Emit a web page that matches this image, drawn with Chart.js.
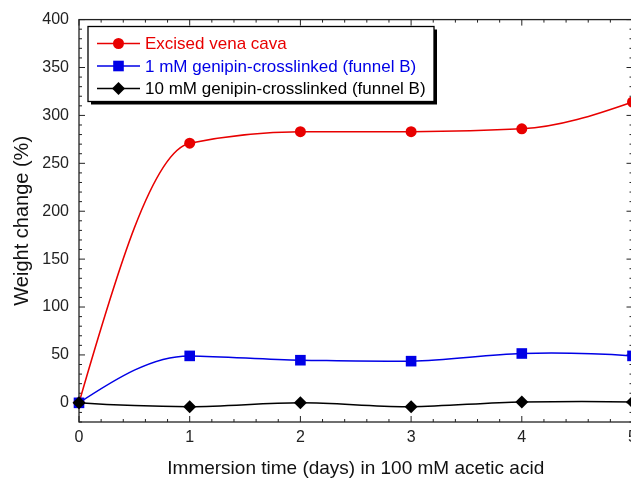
<!DOCTYPE html>
<html>
<head>
<meta charset="utf-8">
<script src="https://cdn.jsdelivr.net/npm/chart.js@4.4.0/dist/chart.umd.min.js"></script>
<style>
  html, body { margin: 0; padding: 0; background: #fff; overflow: hidden; }
  #wrap { width: 680px; height: 479px; }
</style>
</head>
<body>
<div id="wrap"><canvas id="chart" width="680" height="479"></canvas></div>
<script>
/* Weight change of vena cava samples in acetic acid */

var days = [0, 1, 2, 3, 4, 5];
var venaCava = [0, 271, 283, 283, 286, 314];
var genipin1mM = [0, 49, 44.5, 43.5, 51.5, 49];
var genipin10mM = [0, -4, 0, -4, 1, 1];

var xTicks = [0, 1, 2, 3, 4, 5];
var yTicks = [0, 50, 100, 150, 200, 250, 300, 350, 400];

var seriesNames = [
  'Excised vena cava',
  '1 mM genipin-crosslinked (funnel B)',
  '10 mM genipin-crosslinked (funnel B)'
];

var FONT = "'Liberation Sans', Arial, sans-serif";
var RED = '#e80000', BLUE = '#0000e6', BLACK = '#000000';

function pts(ys) {
  return days.map(function(d, i) { return { x: d, y: ys[i] }; });
}

function series(label, ys, color, style, radius, order) {
  return {
    label: label,
    data: pts(ys),
    borderColor: color,
    backgroundColor: color,
    borderWidth: 1.5,
    pointStyle: style,
    pointRadius: radius,
    pointBorderWidth: 0,
    pointBackgroundColor: color,
    cubicInterpolationMode: 'monotone',
    clip: false,
    order: order
  };
}

// Akima slopes, the origin-style spline the plot was made with
function akimaSlopes(xs, ys) {
  var n = xs.length, m = [], t = [];
  for (var i = 0; i < n - 1; i++) m[i + 2] = (ys[i + 1] - ys[i]) / (xs[i + 1] - xs[i]);
  m[1] = 2 * m[2] - m[3];
  m[0] = 2 * m[1] - m[2];
  m[n + 1] = 2 * m[n] - m[n - 1];
  m[n + 2] = 2 * m[n + 1] - m[n];
  for (var k = 0; k < n; k++) {
    var w1 = Math.abs(m[k + 3] - m[k + 2]), w2 = Math.abs(m[k + 1] - m[k]);
    t[k] = (w1 + w2) === 0 ? (m[k + 1] + m[k + 2]) / 2
      : (w1 * m[k + 1] + w2 * m[k + 2]) / (w1 + w2);
  }
  return t;
}

var splinePlugin = {
  id: 'akima',
  beforeDatasetsDraw: function(chart) {
    var xs = chart.scales.x, ys = chart.scales.y;
    chart.data.datasets.forEach(function(ds, di) {
      var meta = chart.getDatasetMeta(di);
      meta.dataset.updateControlPoints(chart.chartArea, 'x');
      var vx = ds.data.map(function(p) { return p.x; });
      var vy = ds.data.map(function(p) { return p.y; });
      var tan = akimaSlopes(vx, vy);
      meta.data.forEach(function(p, i) {
        if (i > 0) {
          var h0 = (vx[i] - vx[i - 1]) / 3;
          p.cp1x = xs.getPixelForValue(vx[i] - h0);
          p.cp1y = ys.getPixelForValue(vy[i] - tan[i] * h0);
        }
        if (i < vx.length - 1) {
          var h1 = (vx[i + 1] - vx[i]) / 3;
          p.cp2x = xs.getPixelForValue(vx[i] + h1);
          p.cp2y = ys.getPixelForValue(vy[i] + tan[i] * h1);
        }
      });
    });
  }
};

// ─── FRAME + INWARD TICKS ─────────────────────────────────
var framePlugin = {
  id: 'frame',
  beforeDatasetsDraw: function(chart) {
    var ctx = chart.ctx, a = chart.chartArea;
    var xs = chart.scales.x, ys = chart.scales.y;
    ctx.save();
    ctx.strokeStyle = '#222';
    ctx.lineWidth = 1.3;
    ctx.strokeRect(a.left, a.top, a.right - a.left, a.bottom - a.top);
    ctx.lineWidth = 1;
    ctx.beginPath();
    for (var v = -20; v <= 400; v += 10) {
      var y = ys.getPixelForValue(v);
      var len = v % 50 === 0 ? 6 : 3;
      ctx.moveTo(a.left, y); ctx.lineTo(a.left + len, y);
      ctx.moveTo(a.right, y); ctx.lineTo(a.right - len, y);
    }
    for (var i = 0; i <= 25; i++) {
      var x = xs.getPixelForValue(i / 5);
      var l = i % 5 === 0 ? 6 : 3;
      ctx.moveTo(x, a.bottom); ctx.lineTo(x, a.bottom - l);
      ctx.moveTo(x, a.top); ctx.lineTo(x, a.top + l);
    }
    ctx.stroke();
    ctx.restore();
  }
};

// ─── BOXED LEGEND WITH SHADOW ─────────────────────────────
var legendPlugin = {
  id: 'boxLegend',
  afterDatasetsDraw: function(chart) {
    var ctx = chart.ctx;
    var bx = 88, by = 26.5, bw = 346, bh = 75;
    ctx.save();
    ctx.fillStyle = '#000';
    ctx.fillRect(bx + 3, by + 3, bw, bh);
    ctx.fillStyle = '#fff';
    ctx.fillRect(bx, by, bw, bh);
    ctx.strokeStyle = '#000';
    ctx.lineWidth = 1.3;
    ctx.strokeRect(bx, by, bw, bh);

    ctx.font = '17px ' + FONT;
    ctx.textBaseline = 'middle';
    ctx.textAlign = 'left';
    chart.data.datasets.forEach(function(ds, i) {
      var y = 43.5 + i * 22.5;
      ctx.strokeStyle = ds.borderColor;
      ctx.lineWidth = 1.5;
      ctx.beginPath();
      ctx.moveTo(97, y); ctx.lineTo(140, y);
      ctx.stroke();
      ctx.fillStyle = ds.borderColor;
      Chart.helpers.drawPoint(ctx, {
        pointStyle: ds.pointStyle, radius: ds.pointRadius, rotation: 0, borderWidth: 0
      }, 118.5, y);
      ctx.fillStyle = ds.borderColor;
      ctx.fillText(ds.label, 145, y + 1);
    });
    ctx.restore();
  }
};

new Chart(document.getElementById('chart'), {
  type: 'line',
  data: {
    datasets: [
      series(seriesNames[0], venaCava, RED, 'circle', 5.5, 3),
      series(seriesNames[1], genipin1mM, BLUE, 'rect', 7.5, 2),
      series(seriesNames[2], genipin10mM, BLACK, 'rectRot', 6.5, 1)
    ]
  },
  options: {
    responsive: false,
    animation: false,
    devicePixelRatio: 1,
    layout: { padding: { left: 0, right: 47.5, top: 18, bottom: 0 } },
    plugins: {
      legend: { display: false },
      tooltip: { enabled: false }
    },
    scales: {
      x: {
        type: 'linear',
        min: 0,
        max: 5,
        afterBuildTicks: function(s) { s.ticks = xTicks.map(function(v) { return { value: v }; }); },
        afterFit: function(s) { s.height = 57; },
        grid: { display: false, drawTicks: false },
        border: { display: false },
        ticks: {
          padding: 6,
          color: '#222',
          font: { family: FONT, size: 16 },
          maxRotation: 0
        },
        title: {
          display: true,
          text: 'Immersion time (days) in 100 mM acetic acid',
          color: '#111',
          font: { family: FONT, size: 19, lineHeight: 1 },
          padding: { top: 0, bottom: 1 }
        }
      },
      y: {
        type: 'linear',
        min: -20,
        max: 400,
        afterBuildTicks: function(s) { s.ticks = yTicks.map(function(v) { return { value: v }; }); },
        afterFit: function(s) { s.width = 79; },
        grid: { display: false, drawTicks: false },
        border: { display: false },
        ticks: {
          padding: 10,
          color: '#222',
          font: { family: FONT, size: 16 }
        },
        title: {
          display: true,
          text: 'Weight change (%)',
          color: '#111',
          font: { family: FONT, size: 20, lineHeight: 1 },
          padding: { top: 12, bottom: 0 }
        }
      }
    }
  },
  plugins: [framePlugin, splinePlugin, legendPlugin]
});
</script>
</body>
</html>
